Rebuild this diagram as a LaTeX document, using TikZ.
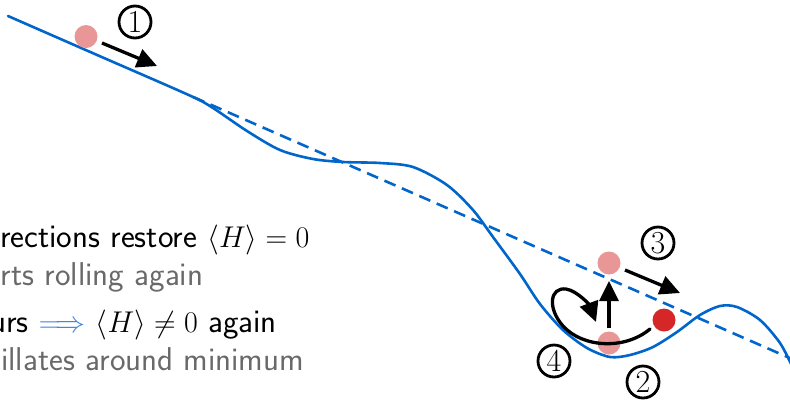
\RequirePackage{fix-cm}
\documentclass[tikz,border=0pt]{standalone}
\usetikzlibrary{arrows.meta}
\definecolor{curveblue}{RGB}{0,102,204}
\definecolor{implblue}{RGB}{66,135,220}
\definecolor{ballpink}{RGB}{233,150,150}
\definecolor{ballred}{RGB}{214,39,40}
\definecolor{textgray}{RGB}{105,105,105}
\newcommand{\bigmath}[1]{{\fontsize{30}{34}\selectfont$#1$}}
\tikzset{
  potential/.style={curveblue, line width=2.6pt, line cap=round},
  tangent/.style={curveblue, line width=2.6pt, dash pattern=on 12pt off 7pt},
  ball/.style={circle, inner sep=0pt, minimum size=23pt},
  move/.style={line width=3.3pt, -{Triangle[length=20pt,width=19pt]}},
  stepnum/.style={circle, draw, line width=2.8pt, inner sep=0pt, minimum size=32pt, font=\fontsize{32}{32}\selectfont},
  caption/.style={anchor=base west, inner sep=0pt, font=\fontsize{33}{38}\selectfont\sffamily},
}
\begin{document}
\begin{tikzpicture}[x=1pt,y=-1pt]
\useasboundingbox (0,0) rectangle (790,400);
\clip (0,0) rectangle (790,400);
% potential curve
\draw[potential] plot[smooth, tension=0.5] coordinates {
  (8,16) (100,56.25) (190,95.6) (213,108) (247,131) (280,150) (313,159) (343,162)
  (380,163) (413,167) (447,185) (473,210) (493,237) (520,274) (540,304) (563,330)
  (587,348) (610,357) (630,355) (653,347) (677,332) (700,315) (720,306) (737,307)
  (760,320) (780,343) (792,366)};
\coordinate (tstart) at (193,96.9);
\coordinate (tend) at (792,359);
\draw[tangent] (tstart) -- (tend);
% balls
\node[ball, fill=ballpink] (b1) at (86,36.5) {};
\node[ball, fill=ballpink] (b3) at (609,263) {};
\node[ball, fill=ballpink] (b2) at (609,343) {};
\node[ball, fill=ballred] (br) at (664,320) {};
% arrows
\coordinate (a1s) at (102,43);
\coordinate (a1e) at (157,66);
\draw[move] (a1s) -- (a1e);
\coordinate (a3s) at (625,270);
\coordinate (a3e) at (680,293);
\draw[move] (a3s) -- (a3e);
\coordinate (aus) at (609,328);
\coordinate (aue) at (609,281);
\draw[move] (aus) -- (aue);
\coordinate (a4s) at (650,329);
\coordinate (a4e) at (596,322);
\draw[line width=3.3pt, line cap=round, -{Triangle[length=20pt,width=19pt]}]
  (a4s) .. controls (625,350) and (583,348) .. (563,326)
  .. controls (547,308) and (550,287) .. (566,289)
  .. controls (578,291) and (590,306) .. (a4e);
% step numbers
\node[stepnum] (n1) at (135,22) {1};
\node[stepnum] (n3) at (658,243) {3};
\node[stepnum] (n2) at (643,382) {2};
\node[stepnum] (n4) at (554,361) {4};
% text
\node[caption] (t1) at (0,247) {rections restore \bigmath{\langle H\rangle = 0}};
\node[caption, text=textgray] (t2) at (0.5,285) {rts rolling again};
\node[caption] (t3) at (-10,332) {urs \textcolor{implblue}{\bigmath{\Longrightarrow}} \bigmath{\langle H\rangle \neq 0} again};
\node[caption, text=textgray] (t4) at (1,370) {illates around minimum};
\end{tikzpicture}
\end{document}
